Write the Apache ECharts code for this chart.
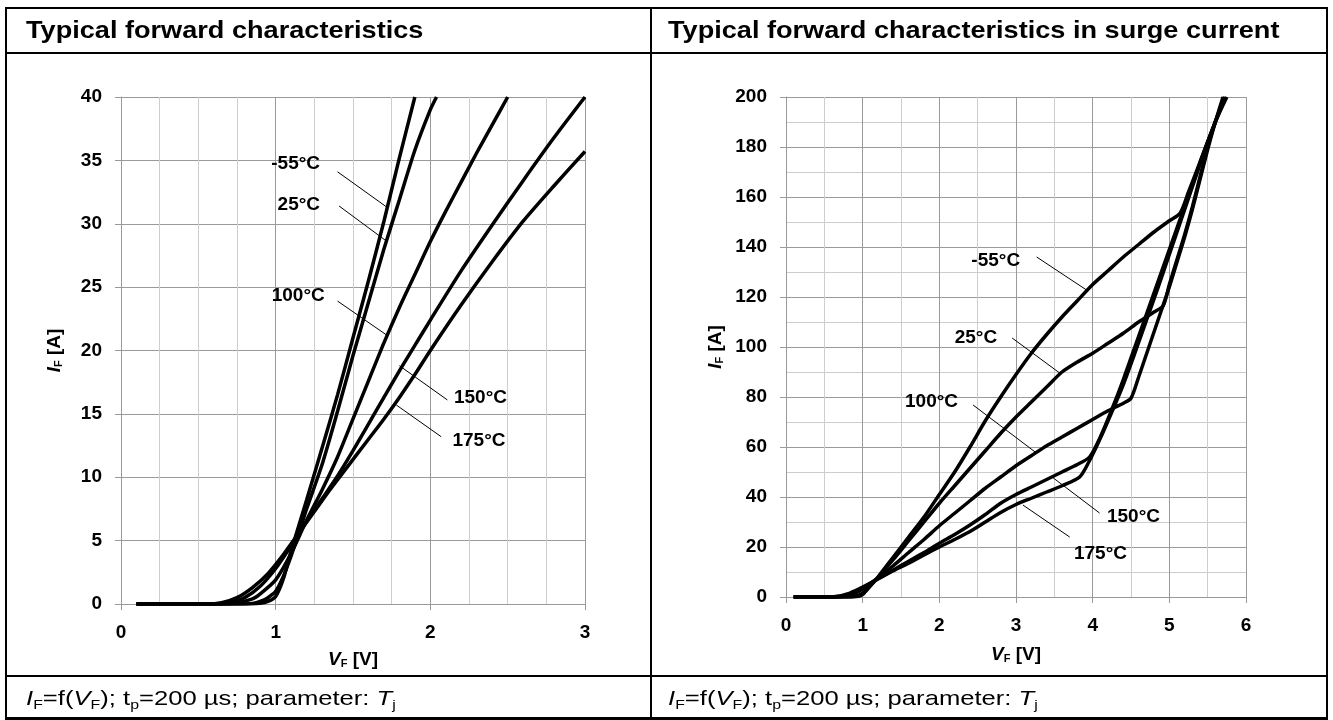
<!DOCTYPE html>
<html>
<head>
<meta charset="utf-8">
<title>Typical forward characteristics</title>
<script src="https://cdn.jsdelivr.net/npm/echarts@6.0.0/dist/echarts.min.js"></script>
<style>
body{margin:0;background:#fff;font-family:"Liberation Sans",Arial,sans-serif;color:#000;}
#page{position:relative;width:1333px;height:720px;overflow:hidden;}
#chart{position:absolute;left:0;top:0;width:1333px;height:720px;}
.rule{position:absolute;background:#000;}
.head{position:absolute;top:16px;font-weight:bold;font-size:24px;line-height:28px;white-space:nowrap;transform:scaleX(1.13);transform-origin:0 50%;}
.foot{position:absolute;top:686px;font-size:21px;line-height:24px;white-space:nowrap;transform:scaleX(1.22);transform-origin:0 50%;}
.foot sub{font-size:13px;vertical-align:-4px;line-height:0;}
</style>
</head>
<body>
<div id="page">
	<div id="chart"></div>
	<div class="rule" style="left:5px;top:7px;width:1323px;height:2px"></div>
	<div class="rule" style="left:5px;top:52px;width:1323px;height:2px"></div>
	<div class="rule" style="left:5px;top:675px;width:1323px;height:2px"></div>
	<div class="rule" style="left:5px;top:717px;width:1323px;height:3px"></div>
	<div class="rule" style="left:5px;top:7px;width:2px;height:713px"></div>
	<div class="rule" style="left:650px;top:7px;width:2px;height:713px"></div>
	<div class="rule" style="left:1326px;top:7px;width:2px;height:713px"></div>
	<div class="head" style="left:26px">Typical forward characteristics</div>
	<div class="head" style="left:668px">Typical forward characteristics in surge current</div>
	<div class="foot" style="left:26px"><i>I</i><sub>F</sub>=f(<i>V</i><sub>F</sub>); t<sub>p</sub>=200 µs; parameter: <i>T</i><sub>j</sub></div>
	<div class="foot" style="left:668px"><i>I</i><sub>F</sub>=f(<i>V</i><sub>F</sub>); t<sub>p</sub>=200 µs; parameter: <i>T</i><sub>j</sub></div>
</div>
<script>
// temperatures (series names)
var temps = ['-55°C', '25°C', '100°C', '150°C', '175°C'];

// left chart: typical forward characteristics, [VF (V), IF (A)]
var leftM55 = [[0.1,0],[0.8,0],[0.9,0.05],[0.95,0.2],[1.0,0.6],[1.05,2.0],[1.1,4.2],[1.2,8.2],[1.3,12.3],[1.4,16.5],[1.5,21.0],[1.6,25.5],[1.7,30.2],[1.8,35.2],[1.9,40]];
var left25 = [[0.1,0],[0.75,0],[0.85,0.05],[0.9,0.2],[0.95,0.5],[1.0,1.0],[1.05,2.2],[1.1,3.8],[1.15,5.6],[1.2,7.5],[1.3,11.0],[1.4,15.2],[1.5,19.6],[1.6,23.8],[1.7,28.0],[1.8,31.9],[1.9,35.8],[2.0,39.0],[2.04,40]];
var left100 = [[0.1,0],[0.65,0],[0.75,0.1],[0.85,0.4],[0.9,0.8],[1.0,1.9],[1.1,4.0],[1.2,6.6],[1.3,9.0],[1.4,11.6],[1.5,14.6],[1.6,17.6],[1.7,20.6],[1.8,23.4],[1.9,26.0],[2.0,28.6],[2.1,31.0],[2.2,33.3],[2.3,35.6],[2.4,37.8],[2.5,40]];
var left150 = [[0.1,0],[0.6,0],[0.7,0.1],[0.8,0.5],[0.9,1.4],[1.0,2.8],[1.1,4.6],[1.2,6.5],[1.3,8.3],[1.4,10.1],[1.5,12.1],[1.6,14.2],[1.7,16.3],[1.8,18.4],[1.9,20.4],[2.0,22.4],[2.2,26.3],[2.4,29.9],[2.6,33.4],[2.8,36.8],[3.0,40]];
var left175 = [[0.1,0],[0.55,0],[0.65,0.1],[0.75,0.5],[0.85,1.3],[0.95,2.4],[1.05,3.9],[1.15,5.6],[1.25,7.3],[1.35,9.0],[1.45,10.6],[1.6,13.0],[1.7,14.6],[1.8,16.3],[1.9,18.1],[2.0,20.0],[2.2,23.6],[2.4,27.0],[2.6,30.2],[2.8,33.0],[3.0,35.7]];

// right chart: forward characteristics in surge current, [VF (V), IF (A)]
var rightM55 = [[0.1,0],[0.85,0],[0.95,0.3],[1.0,1.0],[1.1,4.5],[1.2,8.0],[1.4,16],[1.6,24],[1.8,32],[2.0,41],[2.2,50],[2.4,60],[2.6,70.5],[2.8,80],[3.0,89],[3.2,97.5],[3.4,105],[3.6,112],[3.8,118.5],[4.0,125],[4.2,130.5],[4.4,136],[4.6,141],[4.8,146],[5.0,150.5],[5.14,153.5],[5.25,162],[5.4,174],[5.55,186],[5.72,200]];
var right25 = [[0.1,0],[0.8,0],[0.9,0.3],[1.0,1.5],[1.1,4.5],[1.2,7.8],[1.4,15],[1.6,22.5],[1.8,30],[2.0,37.5],[2.2,44.5],[2.4,51.5],[2.6,58.5],[2.8,65.5],[3.0,72],[3.2,78],[3.4,84],[3.6,90],[3.8,94],[4.0,97.5],[4.2,101.5],[4.4,105.5],[4.6,110],[4.8,114],[4.92,116.5],[5.0,125],[5.1,135],[5.2,145],[5.3,156],[5.4,168],[5.5,180],[5.6,190],[5.72,200]];
var right100 = [[0.1,0],[0.65,0],[0.8,0.5],[0.9,1.5],[1.0,3.2],[1.2,7.6],[1.4,12.5],[1.6,17.8],[1.8,23],[2.0,28.5],[2.2,33.5],[2.4,38.5],[2.6,43.5],[2.8,48],[3.0,52.5],[3.2,56.5],[3.4,60.5],[3.6,64],[3.8,67.5],[4.0,71],[4.2,74.5],[4.4,77.5],[4.5,79.5],[4.6,88],[4.7,97],[4.8,106],[4.9,115],[5.0,124],[5.1,134],[5.2,144],[5.3,155],[5.4,167],[5.5,179],[5.6,190],[5.7,200]];
var right150 = [[0.1,0],[0.6,0],[0.8,0.8],[0.9,2],[1.0,3.6],[1.2,7.3],[1.4,10.8],[1.6,14.3],[1.8,17.8],[2.0,21.5],[2.2,25],[2.4,28.8],[2.6,33],[2.8,37.5],[3.0,41],[3.2,44],[3.4,47],[3.6,50],[3.8,53],[3.96,56],[4.1,64],[4.25,75],[4.4,87],[4.55,100],[4.7,113],[4.85,126],[5.0,139],[5.15,152],[5.3,165],[5.45,178],[5.6,190],[5.73,200]];
var right175 = [[0.1,0],[0.55,0],[0.7,0.4],[0.8,1.2],[0.9,2.5],[1.0,4],[1.2,7.2],[1.4,10.5],[1.6,13.5],[1.8,16.8],[2.0,20],[2.2,23],[2.4,26.2],[2.6,30],[2.8,33.8],[3.0,37],[3.2,39.5],[3.4,42],[3.6,44.5],[3.83,48],[3.95,54],[4.1,63.5],[4.25,74],[4.4,85],[4.55,97.5],[4.7,110.5],[4.85,123.5],[5.0,137],[5.15,150.5],[5.3,164],[5.45,177.5],[5.6,190],[5.75,200]];

// annotation text anchors and leader lines, in axis units
var leftTagAt = [[1.30,34.7],[1.30,31.5],[1.33,24.3],[2.14,16.3],[2.13,12.9]];
var leftTagSide = ['left','left','left','right','right'];
var leftLeaders = [[[1.40,34.1],[1.72,31.3]],[[1.41,31.4],[1.72,28.6]],[[1.40,23.9],[1.72,21.2]],[[2.11,16.1],[1.80,18.8]],[[2.07,13.2],[1.78,15.7]]];
var rightTagAt = [[3.08,134.4],[2.78,103.6],[2.27,78],[4.16,32],[3.73,17.2]];
var rightTagSide = ['left','left','left','right','right'];
var rightLeaders = [[[3.27,136],[3.92,122.8]],[[2.95,103.6],[3.57,89.6]],[[2.44,76.8],[3.25,58]],[[4.09,33.6],[3.47,48]],[[3.70,24],[3.09,36.8]]];

// axis ticks
var leftX = {min:0, max:3, interval:1, minor:4};
var leftY = {min:0, max:40, interval:5, minor:0};
var rightX = {min:0, max:6, interval:1, minor:2};
var rightY = {min:0, max:200, interval:20, minor:2};

var font = 'Liberation Sans';
var nameRich = {
	i:{fontFamily:font, fontWeight:'bold', fontStyle:'italic', fontSize:19, lineHeight:22, verticalAlign:'bottom', color:'#000'},
	s:{fontFamily:font, fontWeight:'bold', fontSize:11, lineHeight:15, verticalAlign:'bottom', color:'#000'},
	t:{fontFamily:font, fontWeight:'bold', fontSize:19, lineHeight:22, verticalAlign:'bottom', color:'#000'}
};

function makeAxis(a, grid, name, gap){
	return {
		type:'value', gridIndex:grid, min:a.min, max:a.max, interval:a.interval,
		name:name, nameLocation:'middle', nameGap:gap,
		nameTextStyle:{color:'#000', rich:nameRich},
		axisLine:{show:true, onZero:false, lineStyle:{color:'#999', width:1}},
		axisTick:{show:true, length:6, lineStyle:{color:'#999'}},
		axisLabel:{margin:19, fontFamily:font, fontWeight:'bold', fontSize:19, color:'#000'},
		splitLine:{show:true, lineStyle:{color:'#9a9a9a', width:1}},
		minorTick:{show:false, splitNumber:a.minor || 5},
		minorSplitLine:{show:a.minor > 0, lineStyle:{color:'#cdcdcd', width:1}}
	};
}

function curve(name, grid, data, leader){
	return {
		name:name, type:'line', xAxisIndex:grid, yAxisIndex:grid,
		data:data, showSymbol:false, smooth:0.25,
		lineStyle:{color:'#000', width:3.5},
		markLine:{
			silent:true, symbol:['none','none'], label:{show:false},
			lineStyle:{color:'#000', width:1, type:'solid'},
			data:[[{coord:leader[0]},{coord:leader[1]}]]
		},
		z:3
	};
}

function tags(grid, at, side){
	var d = [];
	for (var i = 0; i < at.length; i++) {
		d.push({name:temps[i], value:at[i], label:{position:side[i]}});
	}
	return {
		type:'scatter', xAxisIndex:grid, yAxisIndex:grid, symbolSize:0, silent:true,
		itemStyle:{opacity:1},
		data:d,
		label:{show:true, formatter:'{b}', distance:2, fontFamily:font, fontWeight:'bold', fontSize:19, color:'#000'},
		z:4
	};
}

var xName = '{i|V}{s|F}{t| [V]}';
var yName = '{i|I}{s|F}{t| [A]}';

var option = {
	animation:false,
	grid:[
		{left:121, top:97, width:464, height:507},
		{left:786, top:97, width:460, height:500}
	],
	xAxis:[makeAxis(leftX, 0, xName, 43), makeAxis(rightX, 1, xName, 45)],
	yAxis:[makeAxis(leftY, 0, yName, 57), makeAxis(rightY, 1, yName, 61)],
	series:[
		curve(temps[0], 0, leftM55, leftLeaders[0]),
		curve(temps[1], 0, left25, leftLeaders[1]),
		curve(temps[2], 0, left100, leftLeaders[2]),
		curve(temps[3], 0, left150, leftLeaders[3]),
		curve(temps[4], 0, left175, leftLeaders[4]),
		tags(0, leftTagAt, leftTagSide),
		curve(temps[0], 1, rightM55, rightLeaders[0]),
		curve(temps[1], 1, right25, rightLeaders[1]),
		curve(temps[2], 1, right100, rightLeaders[2]),
		curve(temps[3], 1, right150, rightLeaders[3]),
		curve(temps[4], 1, right175, rightLeaders[4]),
		tags(1, rightTagAt, rightTagSide)
	]
};

var myChart = echarts.init(document.getElementById('chart'));
myChart.setOption(option);
</script>
</body>
</html>
